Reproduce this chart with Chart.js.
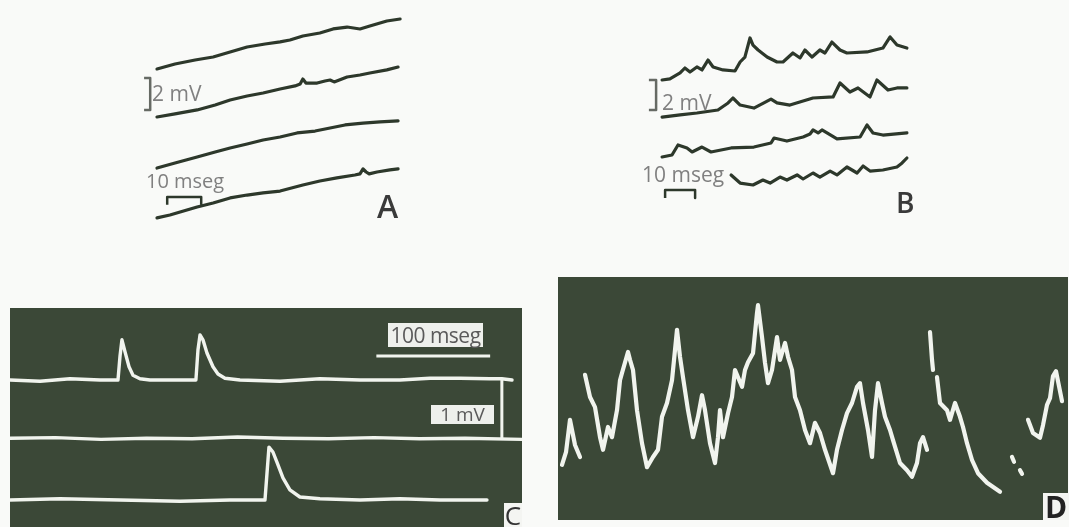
<!DOCTYPE html>
<html>
<head>
<meta charset="utf-8">
<script src="https://cdn.jsdelivr.net/npm/chart.js@4/dist/chart.umd.min.js"></script>
<style>
  html, body { margin: 0; padding: 0; }
  body { width: 1069px; height: 527px; background: #f9faf8; position: relative; overflow: hidden;
         font-family: "Open Sans", "Noto Sans", sans-serif; }
  canvas { position: absolute; display: block; }
  .dark { background: #3b4837; }
  .lbl { position: absolute; white-space: nowrap; }
  .scale { color: #808080; font-size: 21px; line-height: 21px; }
  .panel { color: #3a3a3a; font-weight: 600; }
  .box { position: absolute; background: #eef0ec; color: #5a5a5a; white-space: nowrap; }
</style>
</head>
<body>
<canvas id="chartA" width="272" height="240" style="left:140px;top:0px"></canvas>
<canvas id="chartB" width="300" height="210" style="left:630px;top:20px"></canvas>
<canvas id="chartC" class="dark" width="512" height="219" style="left:10px;top:308px"></canvas>
<canvas id="chartD" class="dark" width="510" height="243" style="left:558px;top:277px"></canvas>

<div class="lbl scale" style="left:152px;top:83px">2 mV</div>
<div class="lbl scale" style="left:146px;top:171px;font-size:20px;line-height:20px">10 mseg</div>
<div class="lbl panel" style="left:377px;top:190px;font-size:32px;line-height:32px">A</div>

<div class="lbl scale" style="left:662px;top:92px">2 mV</div>
<div class="lbl scale" style="left:642px;top:164px">10 mseg</div>
<div class="lbl panel" style="left:896px;top:188px;font-size:28px;line-height:28px">B</div>

<div class="box" style="left:388px;top:323px;width:95px;height:24px;font-size:21px;line-height:24px;text-align:center;letter-spacing:-0.5px">100 mseg</div>
<div class="box" style="left:431px;top:405px;width:63px;height:19px;font-size:19px;line-height:19px;text-align:center">1 mV</div>
<div class="box" style="left:504px;top:503px;width:18px;height:24px;background:#f4f5f2;color:#333;font-size:26px;line-height:24px;text-align:center">C</div>
<div class="box" style="left:1043px;top:493px;width:26px;height:27px;background:#f4f5f2;color:#222;font-weight:700;font-size:30px;line-height:28px;text-align:center">D</div>

<script>
// ---- Panel A: four sweeps, time in ms, potential in mV ----
const a1Time = [5.0, 10.3, 16.2, 21.5, 26.5, 31.5, 36.8, 41.2, 44.1, 47.9, 52.9, 56.8, 60.9, 64.7, 67.6, 72.6, 76.5];
const a1Volt = [10.69, 11.0, 11.25, 11.44, 11.75, 12.06, 12.25, 12.38, 12.5, 12.75, 12.94, 13.19, 13.31, 13.19, 13.38, 13.69, 13.81];

const a2Time = [5.0, 10.3, 16.8, 22.1, 26.5, 31.5, 36.2, 41.2, 45.6, 47.1, 47.9, 48.8, 50.0, 52.1, 54.4, 55.9, 57.1, 60.9, 64.7, 67.6, 72.6, 75.9];
const a2Volt = [7.69, 7.88, 8.13, 8.44, 8.75, 9.0, 9.19, 9.44, 9.63, 9.75, 10.06, 9.81, 9.81, 9.81, 9.94, 10.0, 9.88, 10.19, 10.31, 10.44, 10.63, 10.81];

const a3Time = [5.0, 10.3, 16.8, 22.1, 26.5, 31.5, 36.2, 41.2, 46.2, 51.5, 55.9, 60.3, 65.6, 70.6, 75.9];
const a3Volt = [4.5, 4.81, 5.19, 5.5, 5.75, 6.0, 6.25, 6.44, 6.69, 6.81, 7.0, 7.19, 7.31, 7.38, 7.44];

const a4Time = [5.0, 8.8, 11.8, 16.8, 21.5, 26.5, 31.5, 36.2, 41.2, 47.9, 52.9, 57.9, 63.2, 64.7, 65.6, 66.5, 67.4, 69.7, 73.5, 75.9];
const a4Volt = [1.38, 1.56, 1.75, 2.06, 2.31, 2.63, 2.81, 2.94, 3.06, 3.44, 3.69, 3.88, 4.06, 4.13, 4.44, 4.25, 4.13, 4.25, 4.38, 4.44];

// ---- Panel B: four sweeps with repetitive small potentials ----
const b1Time = [10.7, 13.3, 16.7, 18.3, 20.0, 22.3, 24.0, 26.0, 27.7, 31.0, 35.0, 36.7, 38.3, 40.0, 41.0, 42.7, 45.7, 49.0, 51.0, 54.3, 56.7, 58.3, 60.7, 63.3, 65.0, 67.3, 70.0, 72.3, 79.0, 84.3, 86.7, 89.0, 92.3];
const b1Volt = [10.0, 10.07, 10.47, 10.8, 10.53, 10.87, 10.67, 11.33, 10.87, 10.67, 10.6, 11.2, 11.53, 12.8, 12.33, 12.0, 11.53, 11.2, 11.2, 11.8, 11.47, 12.0, 11.53, 12.0, 11.8, 12.53, 12.0, 11.8, 11.87, 12.13, 12.87, 12.33, 12.13];

const b2Time = [10.7, 16.7, 22.3, 29.3, 32.7, 34.3, 36.7, 41.3, 47.0, 49.0, 53.3, 61.0, 67.7, 70.0, 73.3, 76.0, 80.0, 82.3, 86.0, 89.0, 92.3];
const b2Volt = [7.53, 7.67, 7.8, 8.0, 8.47, 8.8, 8.33, 8.13, 8.73, 8.47, 8.33, 8.8, 8.87, 9.8, 9.2, 9.47, 8.87, 10.0, 9.33, 9.47, 9.47];

const b3Time = [10.7, 14.0, 16.0, 19.0, 20.7, 24.0, 27.0, 33.7, 41.3, 47.0, 48.0, 52.3, 57.7, 60.0, 61.0, 62.7, 64.0, 69.0, 76.7, 79.0, 81.0, 84.3, 92.3];
const b3Volt = [4.87, 5.0, 5.67, 5.47, 5.2, 5.53, 5.2, 5.47, 5.53, 5.8, 6.13, 5.93, 6.2, 6.4, 6.67, 6.47, 6.67, 6.07, 6.2, 7.0, 6.47, 6.33, 6.47];

const b4Time = [33.7, 36.7, 41.0, 44.3, 46.7, 50.0, 52.3, 55.7, 57.7, 61.0, 63.3, 66.7, 69.0, 72.3, 75.7, 77.7, 80.0, 84.3, 89.0, 90.7, 92.3];
const b4Volt = [3.67, 3.13, 3.0, 3.33, 3.13, 3.53, 3.33, 3.67, 3.4, 3.8, 3.53, 3.93, 3.67, 4.2, 3.8, 4.27, 3.93, 4.0, 4.2, 4.47, 4.8];

// ---- Panel C: three oscilloscope sweeps ----
const c1Time = [0, 26.4, 52.7, 79.1, 94.9, 96.7, 98.4, 101.1, 104.6, 108.1, 114.2, 123.0, 145.0, 163.4, 165.2, 167.0, 169.6, 173.1, 178.4, 182.8, 188.9, 202.1, 237.3, 272.4, 307.6, 342.7, 369.1, 395.4, 421.8, 432.3, 441.2];
const c1Volt = [2.45, 2.43, 2.47, 2.45, 2.45, 2.85, 3.12, 2.92, 2.67, 2.53, 2.47, 2.45, 2.45, 2.45, 2.95, 3.2, 3.12, 2.9, 2.67, 2.55, 2.48, 2.45, 2.43, 2.47, 2.45, 2.45, 2.48, 2.48, 2.47, 2.47, 2.45];

const c2Time = [0, 40, 80, 120, 160, 200, 240, 280, 320, 360, 400, 450];
const c2Volt = [1.48, 1.49, 1.46, 1.48, 1.47, 1.5, 1.48, 1.47, 1.49, 1.47, 1.48, 1.46];

const c3Time = [0, 43.9, 96.7, 149.4, 193.3, 224.1, 227.6, 231.1, 234.6, 239.9, 246.0, 254.8, 272.4, 307.6, 342.7, 377.9, 419.2];
const c3Volt = [0.45, 0.47, 0.45, 0.43, 0.45, 0.45, 1.33, 1.25, 1.08, 0.82, 0.62, 0.5, 0.47, 0.45, 0.47, 0.45, 0.45];

// ---- Panel D: irregular field activity (gaps where the trace fades out) ----
const dTime = [4, 8, 12, 17, 22, null,
  27, 32, 37, 42, 45, 50, 54, 59, 62, 64, 70, 72, 75, 79, 84, 89, 95, 100, 104, 109, 114, 119, 122, 125,
  130, 135, 140, 144, 147, 152, 157, 160, 162, 165, 170, 174, 177, 180, 184, 187, 190, 195, 199, 200,
  204, 207, 210, 214, 219, 222, 227, 230, 234, 237, 242, 247, 252, 257, 262, 267, 275, 279, 284, 289,
  294, 299, 302, 305, 310, 314, 317, 320, 324, 327, 332, 335, 342, 349, 354, 359, 362, 365, 369, null,
  372, 374, 375, null,
  379, 382, 389, 392, 397, 402, 405, 409, 414, 420, 429, 442, null,
  454, 456, null, 462, 464, null,
  470, 475, 482, 485, 489, 492, 495, 498, 501, 504];
const dVolt = [0.92, 1.13, 1.67, 1.25, 1.05, null,
  2.42, 2.05, 1.88, 1.38, 1.17, 1.55, 1.38, 1.83, 2.33, 2.45, 2.8, 2.67, 2.5, 1.83, 1.28, 0.88, 1.05, 1.17, 1.72, 1.95, 2.33, 3.17, 2.72, 2.38,
  1.83, 1.38, 1.72, 2.08, 1.83, 1.28, 0.95, 1.38, 1.83, 1.38, 1.78, 2.05, 2.5, 2.38, 2.22, 2.5, 2.63, 2.78, 3.45, 3.58,
  3.05, 2.62, 2.28, 2.5, 3.05, 2.67, 2.95, 2.72, 2.5, 2.05, 1.83, 1.5, 1.28, 1.62, 1.45, 1.17, 0.78, 1.17, 1.5, 1.78,
  1.95, 2.22, 2.28, 1.95, 1.5, 1.05, 1.83, 2.28, 1.95, 1.72, 1.5, 1.33, 0.95, 0.83, 0.72, 0.95, 1.28, 1.38, 1.17, null,
  3.13, 2.67, 2.5, null,
  2.38, 1.95, 1.83, 1.67, 1.95, 1.72, 1.55, 1.28, 1.0, 0.78, 0.62, 0.47, null,
  1.05, 0.97, null, 0.83, 0.77, null,
  1.67, 1.45, 1.37, 1.58, 1.92, 2.03, 2.4, 2.48, 2.23, 1.98];

// ---- Calibration bars (ms, mV) ----
const aBarMs = [8, 18];        // 10 mseg
const aBarMv = [8.13, 10.13];  // 2 mV
const bBarMs = [11.7, 21.7];   // 10 mseg
const bBarMv = [8.0, 10.0];    // 2 mV
const cBarMs = [322, 422];     // 100 mseg
const cBarMv = [1.47, 2.47];   // 1 mV

const zip = (t, v) => t.map((x, i) => ({ x: x, y: v[i] }));

const inkDark = '#2d382b';
const inkGray = '#666a64';
const inkLight = '#f1f4ee';

function trace(t, v, color, width) {
  return { data: zip(t, v), borderColor: color, borderWidth: width, fill: false, spanGaps: false };
}
function bar(points, color, width) {
  return { data: points, borderColor: color, borderWidth: width, fill: false, borderCapStyle: 'butt' };
}

function makeChart(id, xMax, yMax, datasets) {
  return new Chart(document.getElementById(id), {
    type: 'line',
    data: { datasets: datasets },
    options: {
      responsive: false,
      animation: false,
      events: [],
      layout: { padding: 0 },
      plugins: { legend: { display: false }, tooltip: { enabled: false } },
      elements: {
        point: { radius: 0 },
        line: { tension: 0, borderCapStyle: 'round', borderJoinStyle: 'round' }
      },
      scales: {
        x: { type: 'linear', min: 0, max: xMax, display: false },
        y: { type: 'linear', min: 0, max: yMax, display: false }
      }
    }
  });
}

makeChart('chartA', 80, 15, [
  trace(a1Time, a1Volt, inkDark, 3.2),
  trace(a2Time, a2Volt, inkDark, 3.2),
  trace(a3Time, a3Volt, inkDark, 3.2),
  trace(a4Time, a4Volt, inkDark, 3.2),
  bar([{ x: 1.2, y: aBarMv[0] }, { x: 3.0, y: aBarMv[0] }, { x: 3.0, y: aBarMv[1] }, { x: 1.2, y: aBarMv[1] }], inkGray, 2.5),
  bar([{ x: aBarMs[0], y: 2.2 }, { x: aBarMs[0], y: 2.69 }, { x: aBarMs[1], y: 2.69 }, { x: aBarMs[1], y: 2.25 }], inkDark, 2.5)
]);

makeChart('chartB', 100, 14, [
  trace(b1Time, b1Volt, inkDark, 3.2),
  trace(b2Time, b2Volt, inkDark, 3.2),
  trace(b3Time, b3Volt, inkDark, 3.2),
  trace(b4Time, b4Volt, inkDark, 3.2),
  bar([{ x: 6.3, y: bBarMv[0] }, { x: 8.7, y: bBarMv[0] }, { x: 8.7, y: bBarMv[1] }, { x: 6.3, y: bBarMv[1] }], inkGray, 2.5),
  bar([{ x: bBarMs[0], y: 2.13 }, { x: bBarMs[0], y: 2.67 }, { x: bBarMs[1], y: 2.67 }, { x: bBarMs[1], y: 2.13 }], inkDark, 2.5)
]);

makeChart('chartC', 450, 219 / 60, [
  trace(c1Time, c1Volt, inkLight, 3.4),
  trace(c2Time, c2Volt, inkLight, 3.4),
  trace(c3Time, c3Volt, inkLight, 3.4),
  bar([{ x: cBarMs[0], y: 2.85 }, { x: cBarMs[1], y: 2.85 }], inkLight, 3),
  bar([{ x: 432.3, y: cBarMv[0] }, { x: 432.3, y: cBarMv[1] }], inkLight, 3)
]);

makeChart('chartD', 510, 243 / 60, [
  trace(dTime, dVolt, inkLight, 4.2)
]);
</script>
</body>
</html>
